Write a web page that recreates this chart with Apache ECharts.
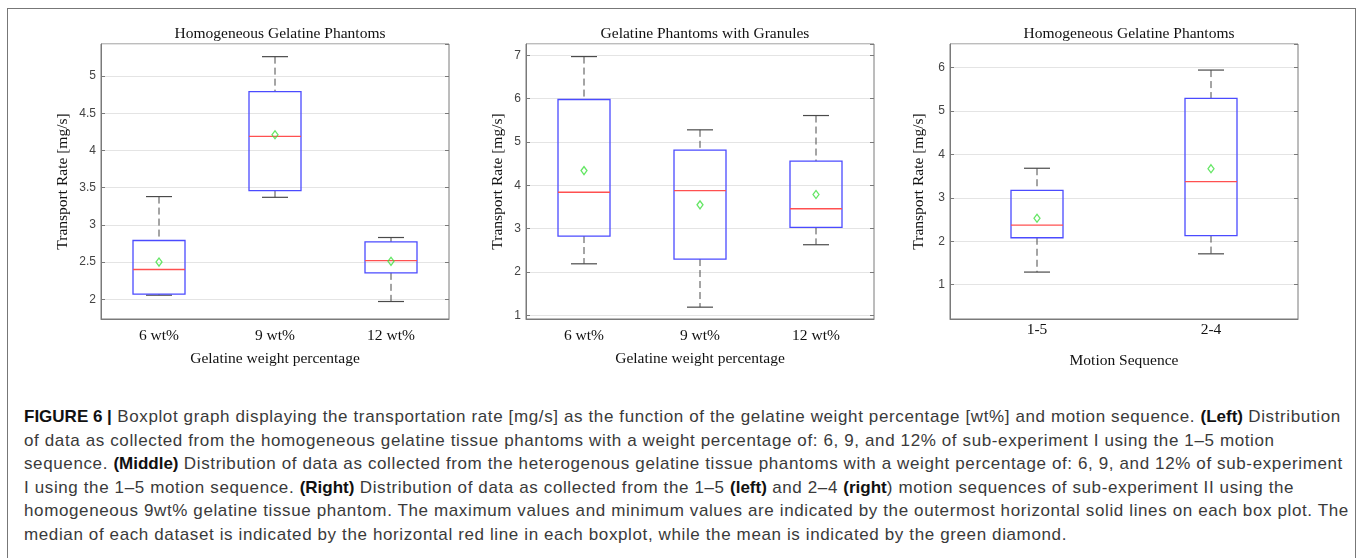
<!DOCTYPE html>
<html>
<head>
<meta charset="utf-8">
<script src="https://cdn.jsdelivr.net/npm/echarts@6/dist/echarts.min.js"></script>
<style>
  html, body { margin: 0; padding: 0; background: #fff; }
  #frame {
    position: absolute; left: 7px; top: 8px; width: 1349px; height: 600px;
    border: 1.5px solid #777; border-bottom: none; box-sizing: border-box;
  }
  #chart { position: absolute; left: 0; top: 0; width: 1357px; height: 390px; }
  #caption {
    position: absolute; left: 24px; top: 405px;
    font-family: 'Liberation Sans', sans-serif;
    font-size: 17px; letter-spacing: 0.62px; line-height: 23.6px; color: #3a3a3a; white-space: nowrap;
  }
  #caption b { color: #111; letter-spacing: 0; }
</style>
</head>
<body>
<div id="frame"></div>
<div id="chart"></div>
<div id="caption">
  <b>FIGURE 6 |</b> Boxplot graph displaying the transportation rate [mg/s] as the function of the gelatine weight percentage [wt%] and motion sequence. <b>(Left)</b> Distribution<br>
  of data as collected from the homogeneous gelatine tissue phantoms with a weight percentage of: 6, 9, and 12% of sub-experiment I using the 1–5 motion<br>
  sequence. <b>(Middle)</b> Distribution of data as collected from the heterogenous gelatine tissue phantoms with a weight percentage of: 6, 9, and 12% of sub-experiment<br>
  I using the 1–5 motion sequence. <b>(Right)</b> Distribution of data as collected from the 1–5 <b>(left)</b> and 2–4 <b>(right</b>) motion sequences of sub-experiment II using the<br>
  homogeneous 9wt% gelatine tissue phantom. The maximum values and minimum values are indicated by the outermost horizontal solid lines on each box plot. The<br>
  median of each dataset is indicated by the horizontal red line in each boxplot, while the mean is indicated by the green diamond.
</div>
<script>
  // categories
  var catsWt = ['6 wt%', '9 wt%', '12 wt%'];
  var catsMotion = ['1-5', '2-4'];

  // box values: [min, q1, median, q3, max]
  var homBox = [
    [2.055, 2.07, 2.40, 2.79, 3.38],
    [3.37, 3.46, 4.19, 4.79, 5.26],
    [1.97, 2.355, 2.52, 2.77, 2.83]
  ];
  var homMean = [2.50, 4.21, 2.51];

  var granBox = [
    [2.19, 2.83, 3.84, 5.98, 6.97],
    [1.19, 2.30, 3.88, 4.81, 5.28],
    [2.63, 3.03, 3.46, 4.56, 5.61]
  ];
  var granMean = [4.34, 3.55, 3.79];

  var motionBox = [
    [1.29, 2.08, 2.37, 3.17, 3.68],
    [1.71, 2.13, 3.37, 5.29, 5.94]
  ];
  var motionMean = [2.53, 3.67];

  var titles = ['Homogeneous Gelatine Phantoms', 'Gelatine Phantoms with Granules', 'Homogeneous Gelatine Phantoms'];
  var xNames = ['Gelatine weight percentage', 'Gelatine weight percentage', 'Motion Sequence'];
  var yName = 'Transport Rate [mg/s]';

  var serif = 'Liberation Serif';
  var boxColor = '#4b4bff';
  var medColor = '#ff5050';
  var whiskColor = '#4a4a4a';
  var meanColor = '#3de03d';
  var frameColor = '#7a7a7a';

  function renderBox(params, api) {
    var x = api.value(0);
    var lo = api.coord([x, api.value(1)]);
    var q1 = api.coord([x, api.value(2)]);
    var med = api.coord([x, api.value(3)]);
    var q3 = api.coord([x, api.value(4)]);
    var hi = api.coord([x, api.value(5)]);
    var cx = lo[0];
    var bw = 26, cw = 13;
    var dash = { stroke: whiskColor, lineWidth: 1, lineDash: [7, 4] };
    var solid = { stroke: whiskColor, lineWidth: 1.2 };
    return {
      type: 'group',
      children: [
        { type: 'line', shape: { x1: cx, y1: hi[1], x2: cx, y2: q3[1] }, style: dash },
        { type: 'line', shape: { x1: cx, y1: q1[1], x2: cx, y2: lo[1] }, style: dash },
        { type: 'line', shape: { x1: cx - cw, y1: hi[1], x2: cx + cw, y2: hi[1] }, style: solid },
        { type: 'line', shape: { x1: cx - cw, y1: lo[1], x2: cx + cw, y2: lo[1] }, style: solid },
        { type: 'rect', shape: { x: cx - bw, y: q3[1], width: bw * 2, height: q1[1] - q3[1] },
          style: { fill: 'none', stroke: boxColor, lineWidth: 1.3 } },
        { type: 'line', shape: { x1: cx - bw, y1: med[1], x2: cx + bw, y2: med[1] },
          style: { stroke: medColor, lineWidth: 1.3 } }
      ]
    };
  }

  var panels = [
    { left: 101, cats: catsWt, box: homBox, mean: homMean, min: 1.735, max: 5.43, step: 0.5, yGap: 30, labMargin: 9, xGap: 32 },
    { left: 526, cats: catsWt, box: granBox, mean: granMean, min: 0.917, max: 7.26, step: 1, yGap: 20, labMargin: 9, xGap: 32 },
    { left: 950, cats: catsMotion, box: motionBox, mean: motionMean, min: 0.21, max: 6.54, step: 1, yGap: 23, labMargin: 3, xGap: 34 }
  ];

  var option = { animation: false, title: [], grid: [], xAxis: [], yAxis: [], series: [] };

  panels.forEach(function (p, i) {
    var w = 348, h = 275;
    option.title.push({
      text: titles[i], left: p.left + w / 2, top: 21, textAlign: 'center',
      textStyle: { fontFamily: serif, fontSize: 15.5, fontWeight: 'normal', color: '#111' }
    });
    option.grid.push({
      left: p.left, top: 44, width: w, height: h,
      show: true, borderColor: frameColor, borderWidth: 1, backgroundColor: 'transparent'
    });
    option.xAxis.push({
      type: 'category', gridIndex: i, data: p.cats, boundaryGap: true,
      axisLine: { show: true, lineStyle: { color: frameColor } },
      axisTick: { inside: true, alignWithLabel: true, length: 4, lineStyle: { color: frameColor } },
      axisLabel: { fontFamily: serif, fontSize: 15.5, color: '#111', margin: p.labMargin },
      splitLine: { show: false },
      name: xNames[i], nameLocation: 'middle', nameGap: p.xGap,
      nameTextStyle: { fontFamily: serif, fontSize: 15.5, color: '#111' }
    });
    option.xAxis.push({
      type: 'category', gridIndex: i, data: p.cats, boundaryGap: true, position: 'top',
      axisLine: { show: false },
      axisTick: { inside: true, alignWithLabel: true, length: 4, lineStyle: { color: frameColor } },
      axisLabel: { show: false }, splitLine: { show: false }
    });
    option.yAxis.push({
      type: 'value', gridIndex: i, min: p.min, max: p.max,
      minInterval: p.step, maxInterval: p.step, splitNumber: 8,
      axisLine: { show: true, lineStyle: { color: frameColor } },
      axisTick: { show: true, inside: true, length: 4, lineStyle: { color: frameColor } },
      axisLabel: { fontFamily: 'Liberation Sans', fontSize: 12, color: '#444', margin: 5,
        showMinLabel: false, showMaxLabel: false },
      splitLine: { show: true, lineStyle: { color: '#e4e4e4', width: 1 } },
      name: yName, nameLocation: 'middle', nameGap: p.yGap, nameRotate: 90,
      nameTextStyle: { fontFamily: serif, fontSize: 15.5, color: '#111' }
    });
    option.yAxis.push({
      type: 'value', gridIndex: i, min: p.min, max: p.max, position: 'right',
      minInterval: p.step, maxInterval: p.step, splitNumber: 8,
      axisLine: { show: false },
      axisTick: { show: true, inside: true, length: 4, lineStyle: { color: frameColor } },
      axisLabel: { show: false }, splitLine: { show: false }
    });
    option.series.push({
      type: 'custom', xAxisIndex: 2 * i, yAxisIndex: 2 * i,
      renderItem: renderBox,
      encode: { x: 0, y: [1, 2, 3, 4, 5] },
      data: p.box.map(function (b, k) { return [k].concat(b); }),
      z: 3
    });
    option.series.push({
      type: 'scatter', xAxisIndex: 2 * i, yAxisIndex: 2 * i,
      symbol: 'diamond', symbolSize: [6, 8],
      itemStyle: { color: 'transparent', borderColor: meanColor, borderWidth: 1.3 },
      data: p.mean.map(function (m, k) { return [k, m]; }),
      z: 4
    });
  });

  var chart = echarts.init(document.getElementById('chart'), null, { renderer: 'canvas' });
  chart.setOption(option);
  window.addEventListener('resize', function () { chart.resize(); });
</script>
</body>
</html>
